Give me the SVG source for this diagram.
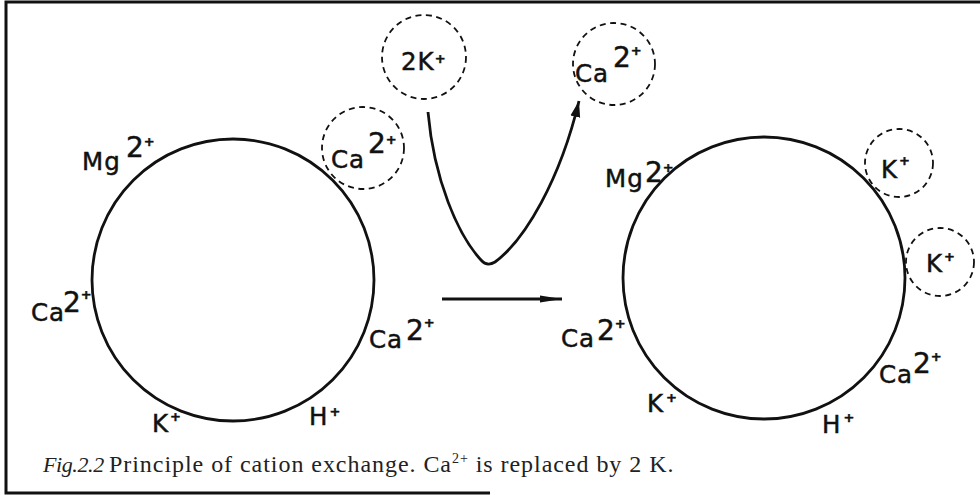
<svg xmlns="http://www.w3.org/2000/svg" width="980" height="495" viewBox="0 0 980 495">
<defs>
<style>
.res{fill:none;stroke:#111;stroke-width:2.8}
.ion{fill:none;stroke:#111;stroke-width:1.8;stroke-dasharray:6 4.5}
.lbl{font-family:"DejaVu Sans","Liberation Sans",sans-serif;font-size:24.5px;fill:#111;stroke:#111;stroke-width:0.5;letter-spacing:1px}
.sup{font-size:28px;letter-spacing:0}
.pl{font-size:13px;font-weight:bold;letter-spacing:0}
.cap{font-family:"Liberation Serif","Times New Roman",serif;font-size:24px;fill:#222;letter-spacing:0.95px}
.frame{stroke:#111;stroke-width:3;fill:none}
.con{fill:none;stroke:#111;stroke-width:2.8;stroke-linejoin:round}
</style>
<marker id="headCurve" markerUnits="userSpaceOnUse" markerWidth="18" markerHeight="12" refX="16" refY="6" orient="auto">
<path d="M0,1 L16,6 L0,11 Z" fill="#111"/>
</marker>
<marker id="headLine" markerUnits="userSpaceOnUse" markerWidth="24" markerHeight="10" refX="22" refY="5" orient="auto">
<path d="M0,1.5 L22,5 L0,8.5 Z" fill="#111"/>
</marker>
</defs>
<rect width="980" height="495" fill="#fff"/>
<g id="frame">
<path class="frame" d="M980,2 H6 V493 H490"/>
</g>

<g id="connectors">
<path class="con" d="M428,112 C434,180 458,235 481,260 Q487,267 495,262 C525,240 560,180 579,101" marker-end="url(#headCurve)"/>
<path class="con" d="M442,299 H562" stroke-width="2" marker-end="url(#headLine)"/>
</g>

<g id="exchanger-before">
<circle class="res" cx="233" cy="280" r="141"/>
<text class="lbl" x="82" y="170">Mg<tspan class="sup" x="126" y="157">2</tspan><tspan class="pl" dx="0" y="146">+</tspan></text>
<text class="lbl" x="31" y="321">Ca<tspan class="sup" x="63" y="312">2</tspan><tspan class="pl" dx="0" y="299">+</tspan></text>
<text class="lbl" x="369" y="348">Ca<tspan class="sup" x="406" y="340">2</tspan><tspan class="pl" dx="0" y="327">+</tspan></text>
<text class="lbl" x="152" y="432">K<tspan class="pl" dx="1" y="421">+</tspan></text>
<text class="lbl" x="309" y="425">H<tspan class="pl" dx="1" y="416">+</tspan></text>
</g>

<g id="ion-ca-bound">
<circle class="ion" cx="363" cy="148" r="41"/>
<text class="lbl" x="331" y="168">Ca<tspan class="sup" x="368" y="153">2</tspan><tspan class="pl" dx="0" y="144">+</tspan></text>
</g>

<g id="ion-2k-in">
<circle class="ion" cx="424" cy="57" r="42"/>
<text class="lbl" x="401" y="70">2K<tspan class="pl" dx="0" y="63">+</tspan></text>
</g>

<g id="ion-ca-out">
<circle class="ion" cx="614" cy="64" r="41"/>
<text class="lbl" x="575" y="82">Ca<tspan class="sup" x="613" y="67">2</tspan><tspan class="pl" dx="0" y="55">+</tspan></text>
</g>

<g id="exchanger-after">
<circle class="res" cx="764" cy="278" r="141"/>
<text class="lbl" x="605" y="187">Mg<tspan class="sup" x="645" y="182">2</tspan><tspan class="pl" dx="0" y="172">+</tspan></text>
<text class="lbl" x="561" y="347">Ca<tspan class="sup" x="597" y="340">2</tspan><tspan class="pl" dx="0" y="328">+</tspan></text>
<text class="lbl" x="647" y="412">K<tspan class="pl" dx="2" y="402">+</tspan></text>
<text class="lbl" x="822" y="433">H<tspan class="pl" dx="2" y="422">+</tspan></text>
<text class="lbl" x="879" y="383">Ca<tspan class="sup" x="913" y="373">2</tspan><tspan class="pl" dx="0" y="361">+</tspan></text>
</g>

<g id="ion-k-upper">
<circle class="ion" cx="899" cy="163" r="34"/>
<text class="lbl" x="881" y="178">K<tspan class="pl" dx="1" y="165">+</tspan></text>
</g>

<g id="ion-k-lower">
<circle class="ion" cx="940" cy="262" r="34"/>
<text class="lbl" x="926" y="272">K<tspan class="pl" dx="1" y="261">+</tspan></text>
</g>

<g id="caption">
<text class="cap" x="43" y="472"><tspan font-style="italic" font-size="22" letter-spacing="-0.4">Fig.2.2</tspan><tspan x="109">Principle of cation exchange. Ca</tspan><tspan font-size="14" dy="-9">2+</tspan><tspan dy="9"> is replaced by 2 K.</tspan></text>
</g>
</svg>
